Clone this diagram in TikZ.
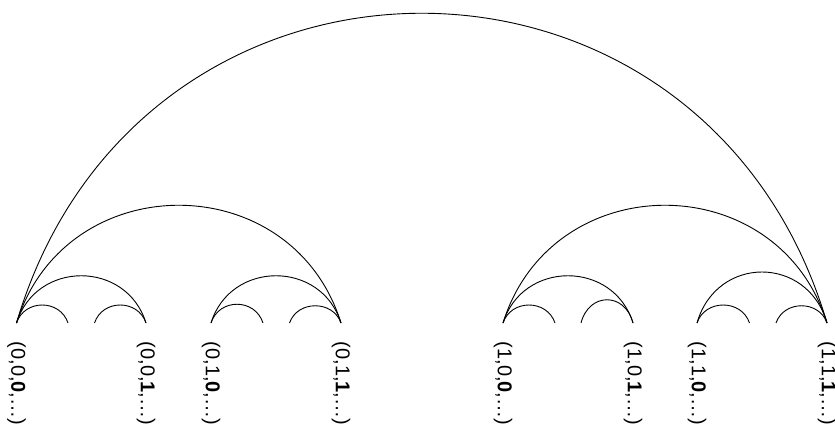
\documentclass[tikz,border=0pt]{standalone}
\usepackage{fontspec}
\setmainfont{Liberation Sans}
\usetikzlibrary{calc}
\begin{document}
\begin{tikzpicture}[x=1pt,y=-1pt,
  arcline/.style={line width=0.9pt,black},
  lbl/.style={rotate=-90,anchor=west,inner sep=0pt,font=\fontsize{20}{24}\selectfont}]
\useasboundingbox (0,0) rectangle (835,428);
% end points
\coordinate (p1) at (16.5,323);
\coordinate (p2) at (146,323);
\coordinate (p3) at (211,323);
\coordinate (p4) at (341,323);
\coordinate (p5) at (503,323);
\coordinate (p6) at (633,323);
\coordinate (p7) at (697,323);
\coordinate (p8) at (827,323);
\coordinate (q1) at (68,323);
\coordinate (q2) at (94.5,323);
\coordinate (q3) at (263,323);
\coordinate (q4) at (289.5,323);
\coordinate (q5) at (555,323);
\coordinate (q6) at (581,323);
\coordinate (q7) at (749.5,323);
\coordinate (q8) at (776,323);
% #1,#2 ends, #3 horizontal control offset, #4 control height
\newcommand{\myarc}[4]{\draw[arcline] (#1) .. controls ($(#1)+(#3,-#4)$) and ($(#2)+(-#3,-#4)$) .. (#2);}
% level 1
\myarc{p1}{p8}{122}{413}
% level 2
\myarc{p1}{p4}{49}{157}
\myarc{p5}{p8}{49}{157}
% level 3
\myarc{p1}{p2}{19.5}{63}
\myarc{p3}{p4}{19.5}{63}
\myarc{p5}{p6}{19.5}{63}
\myarc{p7}{p8}{19.5}{68}
% level 4
\myarc{p1}{q1}{8}{24}
\myarc{q2}{p2}{8}{24}
\myarc{p3}{q3}{8}{25}
\myarc{q4}{p4}{8}{23}
\myarc{p5}{q5}{8}{24}
\myarc{q6}{p6}{8}{31}
\myarc{p7}{q7}{8}{24}
\myarc{q8}{p8}{8}{23}
% labels
\node[lbl] (l1) at (16.5,341.5) {(0,0,\textbf{0},…)};
\node[lbl] (l2) at (146,341.5) {(0,0,\textbf{1},…)};
\node[lbl] (l3) at (211,341.5) {(0,1,\textbf{0},…)};
\node[lbl] (l4) at (341,341.5) {(0,1,\textbf{1},…)};
\node[lbl] (l5) at (503,341.5) {(1,0,\textbf{0},…)};
\node[lbl] (l6) at (633,341.5) {(1,0,\textbf{1},…)};
\node[lbl] (l7) at (697,341.5) {(1,1,\textbf{0},…)};
\node[lbl] (l8) at (827,341.5) {(1,1,\textbf{1},…)};
\end{tikzpicture}
\end{document}
